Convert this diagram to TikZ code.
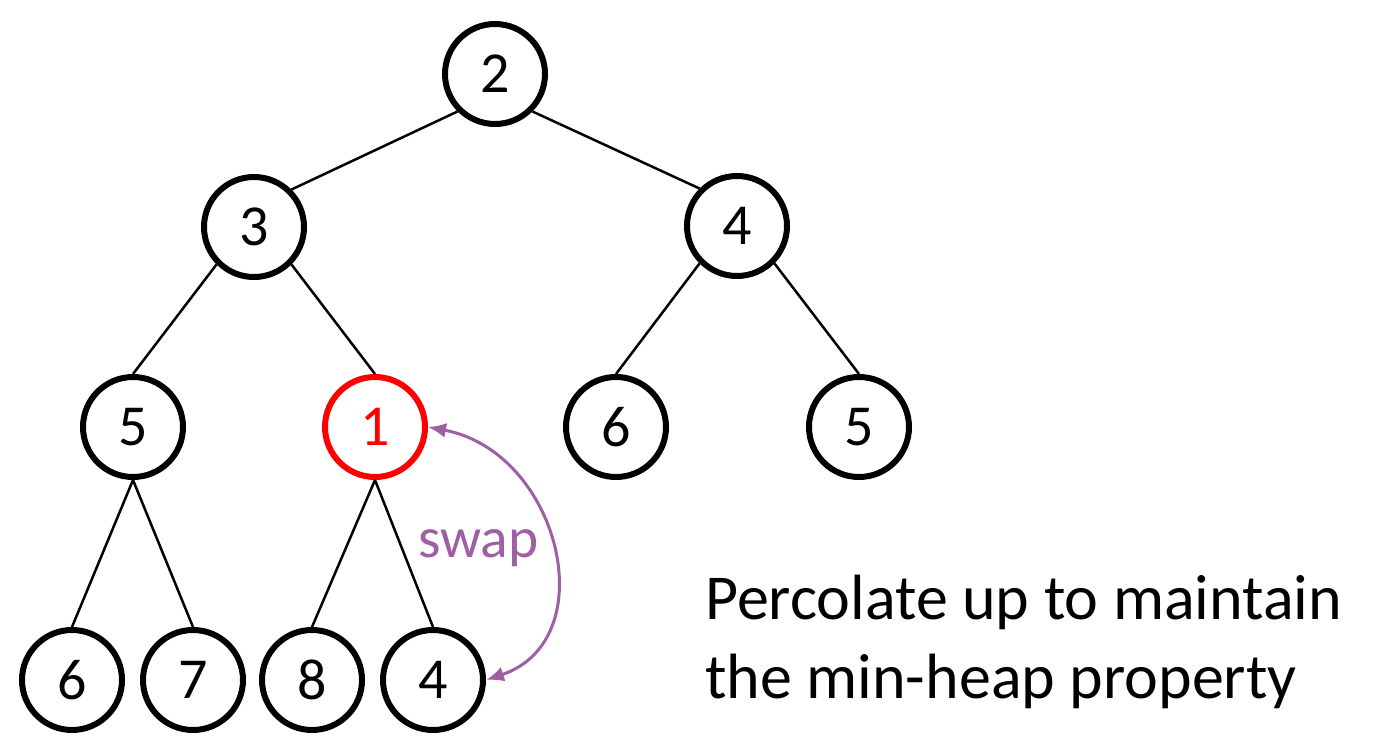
\documentclass[tikz,border=0pt]{standalone}
\usepackage{fontspec}
\setmainfont{Carlito}
\usetikzlibrary{arrows.meta}
\definecolor{swapcol}{RGB}{158,95,165}
\definecolor{hotred}{RGB}{255,0,0}
\begin{document}
\begin{tikzpicture}[x=1pt,y=-1pt,
  heapnode/.style={circle,draw=black,line width=6pt,minimum size=100pt,inner sep=0pt,
    font=\fontsize{58}{60}\selectfont,text=black},
  hotnode/.style={heapnode,draw=hotred,text=hotred},
  edge/.style={line width=2.5pt,draw=black},
  swaparrow/.style={line width=3pt,draw=swapcol,{Latex[length=18pt,width=15pt]}-{Latex[length=18pt,width=15pt]}},
  swaplabel/.style={text=swapcol,font=\fontsize{57.5}{60}\selectfont,inner sep=0pt,anchor=base west},
  caption/.style={font=\fontsize{64}{79}\selectfont,align=left,inner sep=0pt,anchor=base west}]
\path[use as bounding box] (0,0) rectangle (1376,754);
\node[heapnode] (n2)  at (495,74)  {2};
\node[heapnode] (n3)  at (254,227) {3};
\node[heapnode] (n4)  at (737,226) {4};
\node[heapnode] (n5)  at (133,427) {5};
\node[hotnode]  (n1)  at (375,427) {1};
\node[heapnode] (n6)  at (616,427) {6};
\node[heapnode] (n5b) at (859,427) {5};
\node[heapnode] (n6b) at (72,680)  {6};
\node[heapnode] (n7)  at (193,680) {7};
\node[heapnode] (n8)  at (312,680) {8};
\node[heapnode] (n4b) at (433,680) {4};
\draw[edge] (n2.south west) -- (n3.north east);
\draw[edge] (n2.south east) -- (n4.north west);
\draw[edge] (n3.south west) -- (n5.north);
\draw[edge] (n3.south east) -- (n1.north);
\draw[edge] (n4.south west) -- (n6.north);
\draw[edge] (n4.south east) -- (n5b.north);
\draw[edge] (n5.south) -- (n6b.north);
\draw[edge] (n5.south) -- (n7.north);
\draw[edge] (n1.south) -- (n8.north);
\draw[edge] (n1.south) -- (n4b.north);
\draw[swaparrow] (n1.east) .. controls (560,452) and (605,640) .. (n4b.east);
\node[swaplabel] (swap) at (418,557) {swap};
\node[caption] (cap) at (705,698) {Percolate up to maintain\\the min-heap property};
\end{tikzpicture}
\end{document}
